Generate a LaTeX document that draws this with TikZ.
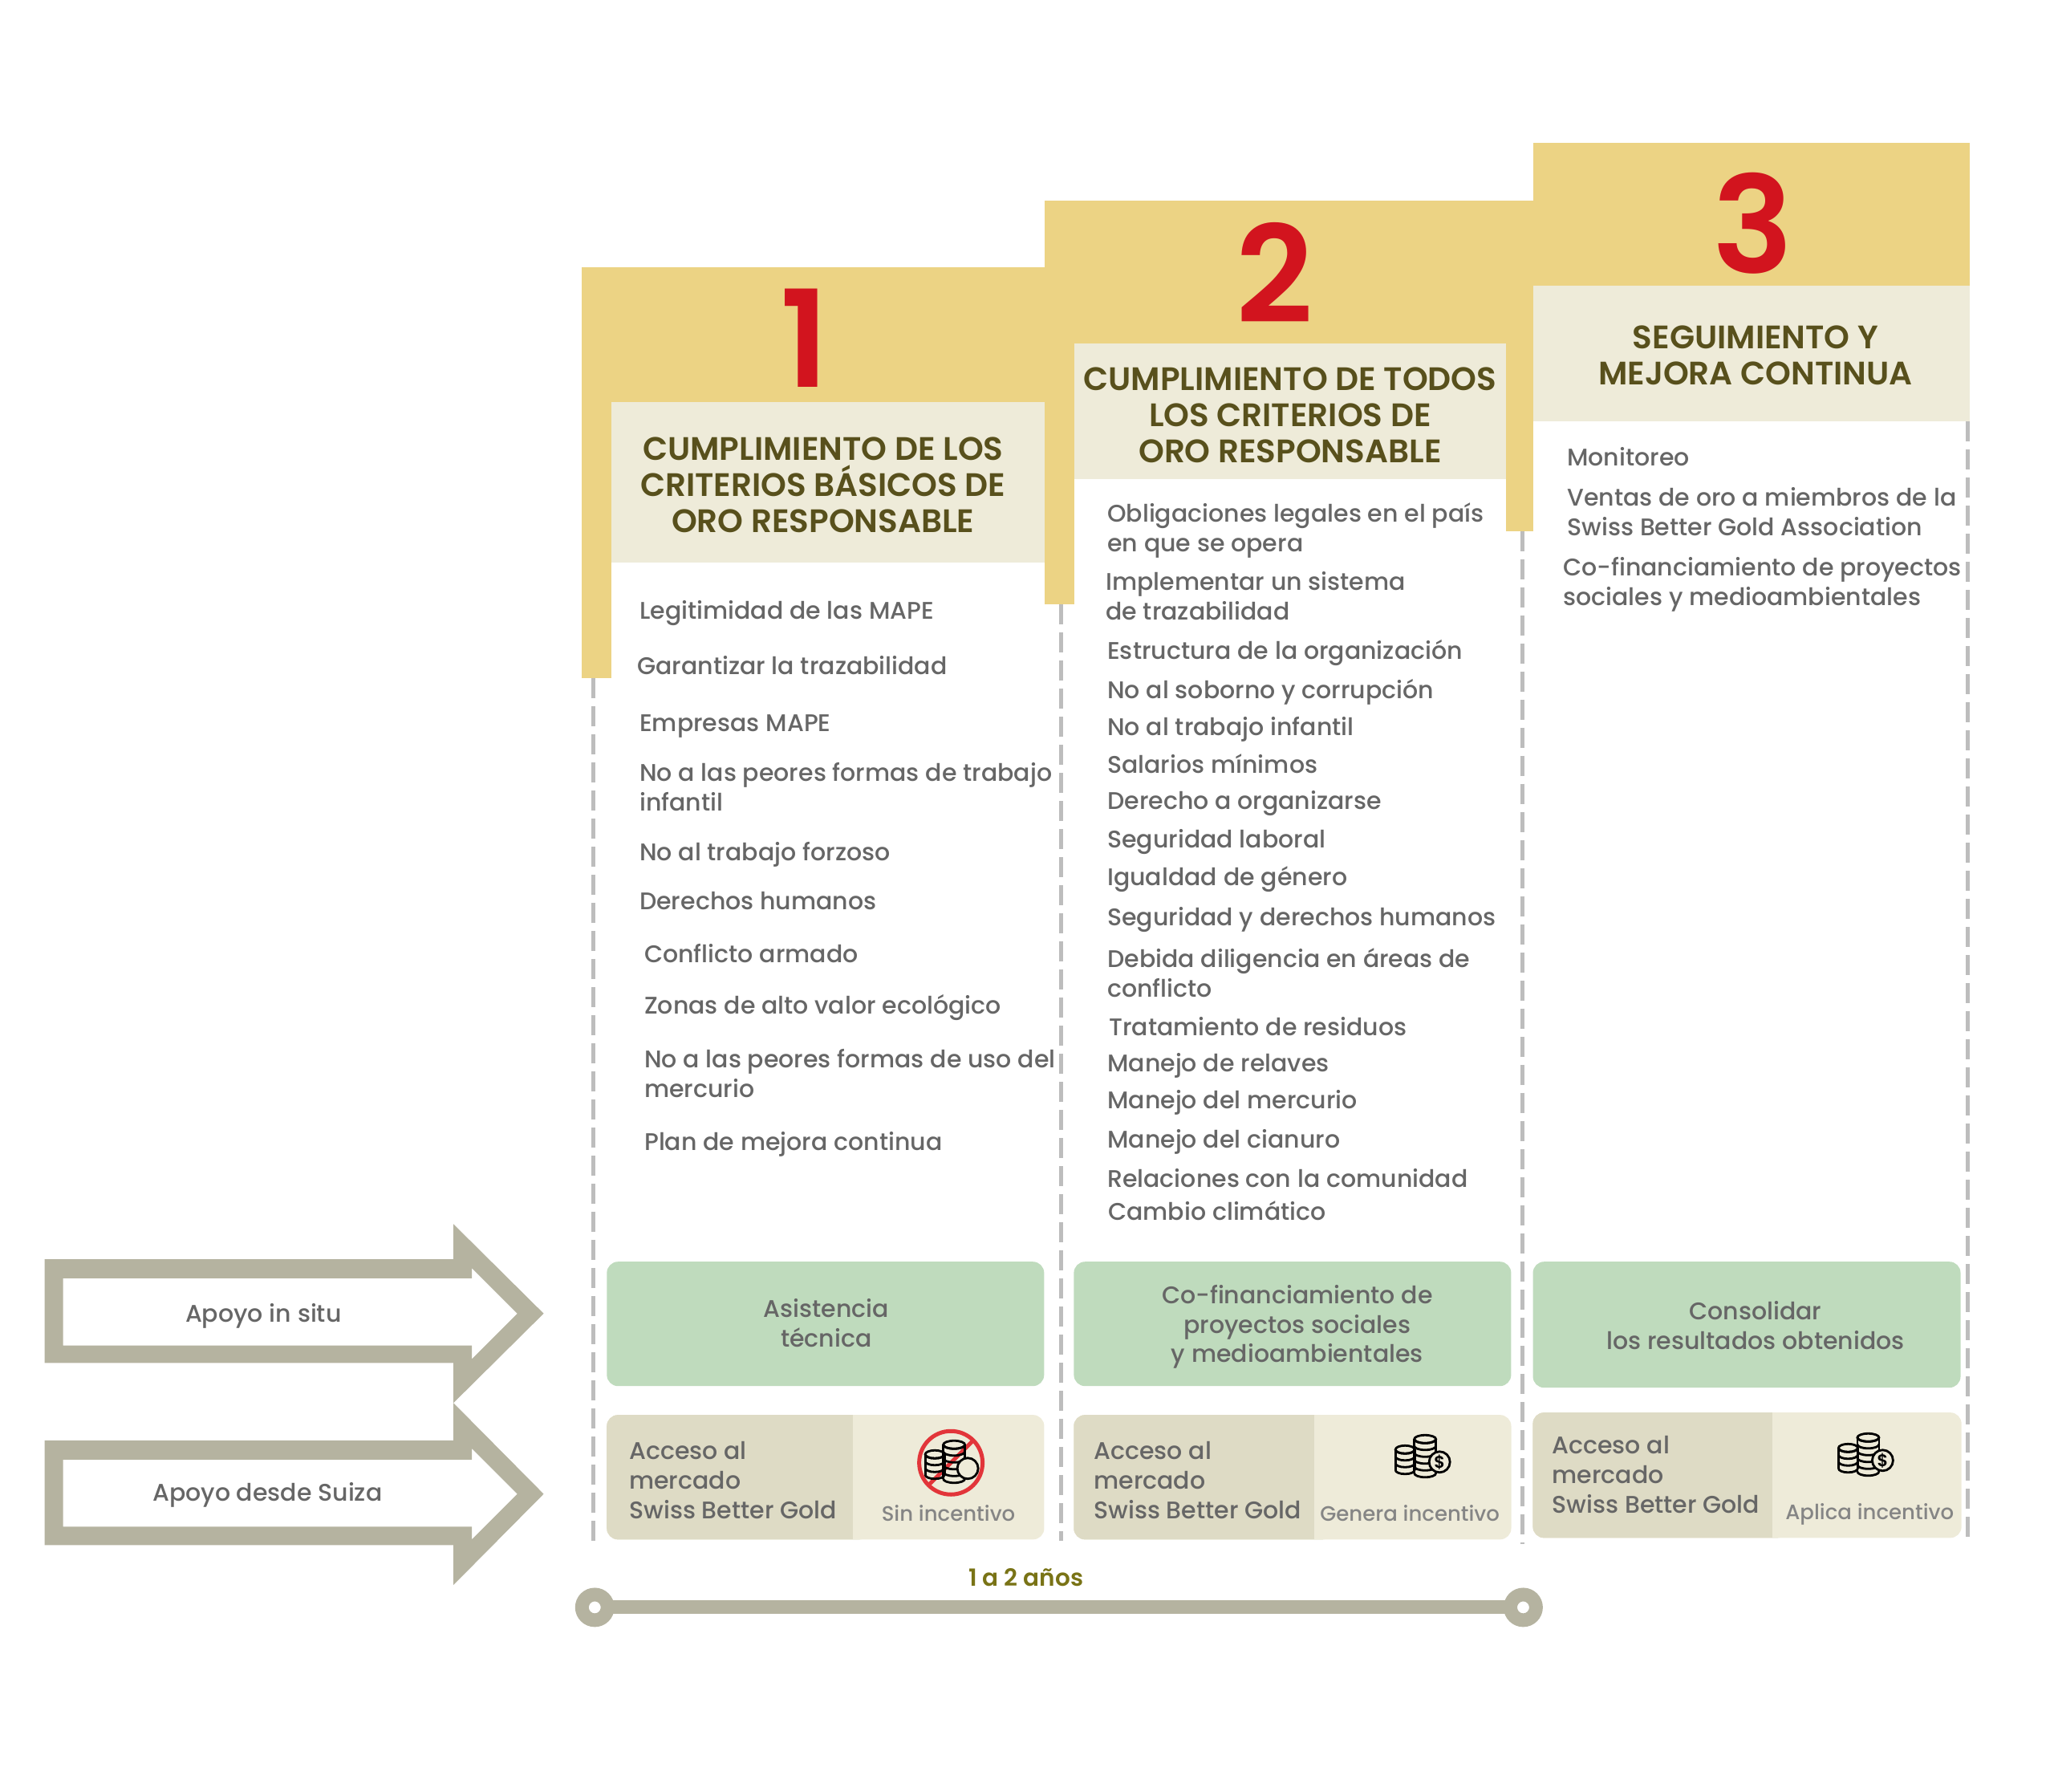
\documentclass[tikz,border=0pt]{standalone}
\usepackage{fontspec}
\setmainfont{Poppins}[BoldFont=* SemiBold]
\newfontfamily\medfont{Poppins Medium}
\usepackage{tikz}
\definecolor{goldbar}{HTML}{ECD384}
\definecolor{creambox}{HTML}{EEEBD9}
\definecolor{olivetext}{HTML}{58501C}
\definecolor{rednum}{HTML}{D2141E}
\definecolor{graytext}{HTML}{666666}
\definecolor{arrowgray}{HTML}{B5B3A0}
\definecolor{greenbox}{HTML}{BFDBBD}
\definecolor{marketbox}{HTML}{DEDBC5}
\definecolor{dashgray}{HTML}{BDBDBD}
\definecolor{noring}{HTML}{E2353A}
\tikzset{
  item/.style={anchor=west, align=left, inner sep=0pt, text height=20pt, text depth=0pt, text=graytext, font=\medfont\fontsize{30}{37}\selectfont},
  headtext/.style={align=center, inner sep=0pt, text=olivetext, font=\bfseries\fontsize{40.5}{45}\selectfont},
  numtext/.style={inner sep=0pt, text=rednum, font=\bfseries\fontsize{168}{168}\selectfont},
  greentext/.style={align=center, inner sep=0pt, text=graytext, font=\medfont\fontsize{30}{36.5}\selectfont},
  incentive/.style={inner sep=0pt, text=graytext!80, font=\medfont\fontsize{26}{32}\selectfont},
  greenpanel/.style={fill=greenbox, rounded corners=14pt, inner sep=0pt},
  supportarrow/.style={fill=arrowgray, even odd rule},
  bardash/.style={dashgray, line width=5pt, dash pattern=on 25pt off 10pt},
  coinline/.style={draw=black, line width=2.8pt},
}
% one pile of coins, local coordinates with y going up
\newcommand{\coinstack}[4]{%
  \foreach \k in {0,...,#3}
    \draw[coinline] (#1+#4,#2+\k*8.5) arc (0:-180:#4 and 5);
  \draw[coinline] (#1,#2+#3*8.5) ellipse (#4 and 5);
  \draw[coinline] (#1-#4,#2) -- (#1-#4,#2+#3*8.5) (#1+#4,#2) -- (#1+#4,#2+#3*8.5);
}
\begin{document}
\begin{tikzpicture}[x=0.995pt, y=-0.995pt]
    \useasboundingbox (0,0) rectangle (2572.9,2244.2);
    % dashed column lines
    \draw[bardash] (743,849) -- (743,1934);
    \draw[bardash] (1329,757) -- (1329,1930);
    \draw[bardash] (1907,665) -- (1907,1934);
    \draw[bardash] (2465,528) -- (2465,1928);
    % gold headers
    \fill[goldbar] (729,335) rectangle (766,849);
    \fill[goldbar] (766,335) rectangle (1309,504);
    \fill[goldbar] (1309,251) rectangle (1346,757);
    \fill[goldbar] (1346,251) rectangle (1921,430);
    \fill[goldbar] (1886,430) rectangle (1921,665);
    \fill[goldbar] (1921,179) rectangle (2467,358);
    \fill[creambox] (766,504) rectangle (1309,705);
    \fill[creambox] (1346,430) rectangle (1886,600);
    \fill[creambox] (1921,358) rectangle (2467,528);
    \node[numtext] (num1) at (1008,423) {1};
    \node[numtext] (num2) at (1597,342) {2};
    \node[numtext] (num3) at (2196,280) {3};
    \node[headtext] (head1) at (1031,607) {CUMPLIMIENTO DE LOS\\CRITERIOS BÁSICOS DE\\ORO RESPONSABLE};
    \node[headtext] (head2) at (1616,520) {CUMPLIMIENTO DE TODOS\\LOS CRITERIOS DE\\ORO RESPONSABLE};
    \node[headtext] (head3) at (2199,445) {SEGUIMIENTO Y\\MEJORA CONTINUA};
    % criteria lists
    \foreach \n/\x/\y/\t in {
        1/801/765/Legitimidad de las MAPE,
        2/798/835/Garantizar la trazabilidad,
        3/801/906/Empresas MAPE,
        4/801/1006/{No a las peores formas de trabajo\\infantil},
        5/801/1068/No al trabajo forzoso,
        6/801/1129/Derechos humanos,
        7/807/1195/Conflicto armado,
        8/807/1260/Zonas de alto valor ecológico,
        9/807/1364/{No a las peores formas de uso del\\mercurio},
        10/807/1431/Plan de mejora continua}
        \node[item] (a\n) at (\x,\y) {\t};
    \foreach \n/\x/\y/\t in {
        1/1387/681/{Obligaciones legales en el país\\en que se opera},
        2/1385/766/{Implementar un sistema\\de trazabilidad},
        3/1387/816/Estructura de la organización,
        4/1387/865/No al soborno y corrupción,
        5/1387/911/No al trabajo infantil,
        6/1387/958/Salarios mínimos,
        7/1387/1004/Derecho a organizarse,
        8/1387/1052/Seguridad laboral,
        9/1387/1099/Igualdad de género,
        10/1387/1149/Seguridad y derechos humanos,
        11/1387/1239/{Debida diligencia en áreas de\\conflicto},
        12/1389/1287/Tratamiento de residuos,
        13/1387/1332/Manejo de relaves,
        14/1387/1378/Manejo del mercurio,
        15/1387/1428/Manejo del cianuro,
        16/1387/1477/Relaciones con la comunidad,
        17/1388/1518/Cambio climático}
        \node[item] (b\n) at (\x,\y) {\t};
    \foreach \n/\x/\y/\t in {
        1/1963/573/Monitoreo,
        2/1963/661/{Ventas de oro a miembros de la\\Swiss Better Gold Association},
        3/1958/748/{Co-financiamiento de proyectos\\sociales y medioambientales}}
        \node[item] (c\n) at (\x,\y) {\t};
    % support arrows
    \fill[supportarrow] (56,1577) -- (568,1577) -- (568,1533) -- (681,1645) -- (568,1757) -- (568,1707) -- (56,1707) -- cycle
        (79,1601) -- (591,1601) -- (591,1588) -- (648,1645) -- (591,1702) -- (591,1685) -- (79,1685) -- cycle;
    \fill[supportarrow] (56,1804) -- (568,1804) -- (568,1757) -- (681,1871) -- (568,1985) -- (568,1935) -- (56,1935) -- cycle
        (79,1828) -- (591,1828) -- (591,1814) -- (648,1871) -- (591,1928) -- (591,1912) -- (79,1912) -- cycle;
    \node[greentext] (arrow1) at (330,1648) {Apoyo in situ};
    \node[greentext] (arrow2) at (335,1872) {Apoyo desde Suiza};
    % green boxes
    \node[greenpanel, minimum width=545pt, minimum height=155pt] (green1) at (1034,1658) {};
    \node[greenpanel, minimum width=545pt, minimum height=155pt] (green2) at (1619,1658) {};
    \node[greenpanel, minimum width=533pt, minimum height=157pt] (green3) at (2188,1659) {};
    \node[greentext] (greentext1) at (1035,1657) {Asistencia\\técnica};
    \node[greentext] (greentext2) at (1625,1662) {Co-financiamiento de\\proyectos sociales\\y medioambientales};
    \node[greentext] (greentext3) at (2199,1660) {Consolidar\\los resultados obtenidos};
    % market boxes
    \fill[creambox, rounded corners=14pt] (760,1772) rectangle (1308,1928);
    \fill[marketbox, rounded corners=14pt] (760,1772) rectangle (1090,1928);
    \fill[creambox] (1068,1772) rectangle (1090,1928);
    \fill[creambox, rounded corners=14pt] (1345,1772) rectangle (1893,1928);
    \fill[marketbox, rounded corners=14pt] (1345,1772) rectangle (1670,1928);
    \fill[creambox] (1646,1772) rectangle (1670,1928);
    \fill[creambox, rounded corners=14pt] (1920,1769) rectangle (2457,1926);
    \fill[marketbox, rounded corners=14pt] (1920,1769) rectangle (2240,1926);
    \fill[creambox] (2220,1769) rectangle (2240,1926);
    \node[item] (market1) at (788,1892) {Acceso al\\mercado\\Swiss Better Gold};
    \node[item] (market2) at (1370,1892) {Acceso al\\mercado\\Swiss Better Gold};
    \node[item] (market3) at (1944,1885) {Acceso al\\mercado\\Swiss Better Gold};
    \node[incentive] (sin) at (1188,1895) {Sin incentivo};
    \node[incentive] (gen) at (1766,1895) {Genera incentivo};
    \node[incentive] (apl) at (2342,1896) {Aplica incentivo};
    % coins
    \begin{scope}[shift={(1171,1847)}, x=1pt, y=1pt]
        \draw[noring, line width=5pt] (20,15) circle (39.5);
        \draw[noring, line width=5pt] (48,43) -- (-8,-13);
        \coinstack{0}{0}{3}{12}
        \coinstack{24}{-5}{5}{13.5}
        \draw[coinline, fill=creambox] (41,8) circle (13);
    \end{scope}
    \begin{scope}[shift={(1760,1841)}, x=1pt, y=1pt]
        \coinstack{0}{0}{3}{12}
        \coinstack{25}{-4}{5}{13.5}
        \draw[coinline, fill=creambox] (43,10) circle (13);
        \node[font=\bfseries\fontsize{21}{21}\selectfont] (dollar1) at (43,10) {\$};
    \end{scope}
    \begin{scope}[shift={(2315,1839)}, x=1pt, y=1pt]
        \coinstack{0}{0}{3}{12}
        \coinstack{25}{-4}{5}{13.5}
        \draw[coinline, fill=creambox] (43,10) circle (13);
        \node[font=\bfseries\fontsize{21}{21}\selectfont] (dollar2) at (43,10) {\$};
    \end{scope}
    % time line
    \coordinate (t1) at (745,2013);
    \coordinate (t2) at (1908,2013);
    \draw[arrowgray, line width=17pt] (t1) -- (t2);
    \draw[arrowgray, line width=17pt, fill=white] (t1) circle (16);
    \draw[arrowgray, line width=17pt, fill=white] (t2) circle (16);
    \node[inner sep=0pt, text=olivetext!80!yellow, font=\bfseries\fontsize{29.5}{32}\selectfont] (years) at (1285,1976) {1 a 2 años};
\end{tikzpicture}
\end{document}
